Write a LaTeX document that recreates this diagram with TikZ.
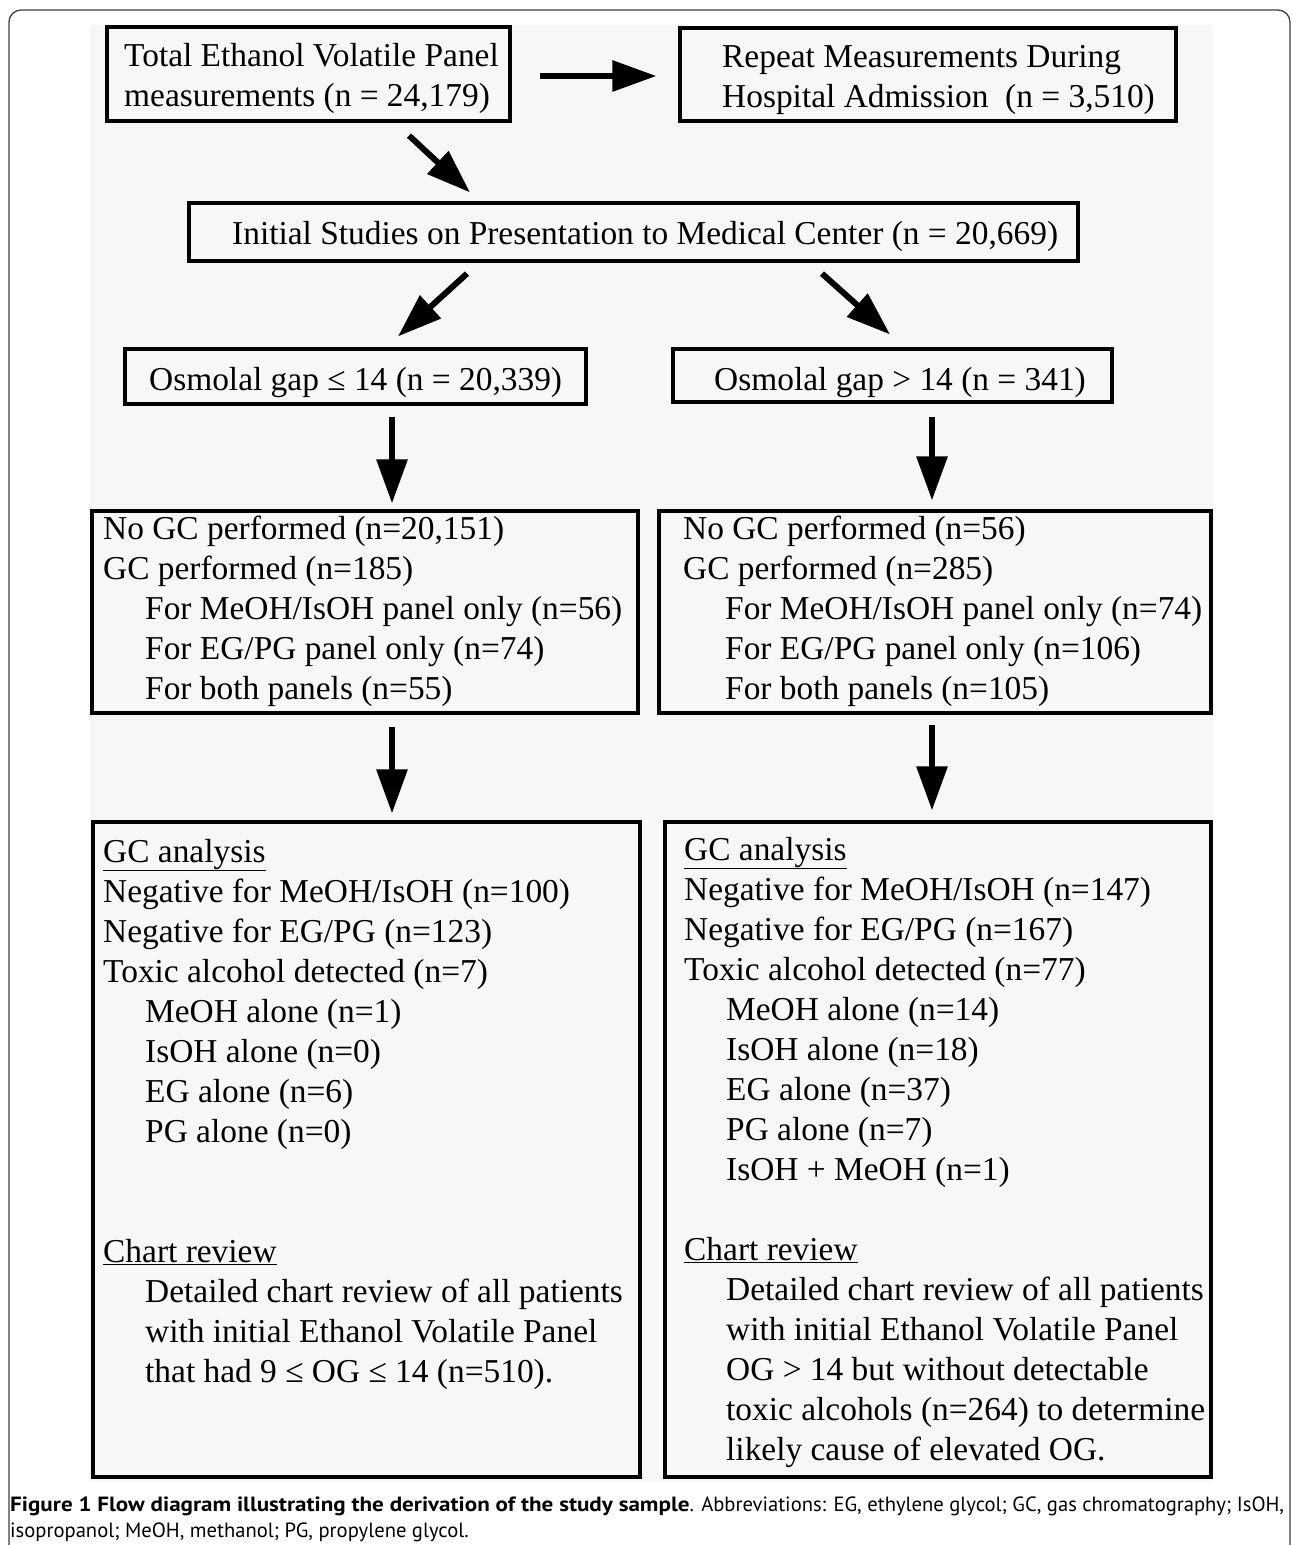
\documentclass[tikz,border=0pt]{standalone}
\usepackage{fontspec}
\setmainfont{Liberation Serif}
\newfontfamily\capfont{PT Sans}
\newfontfamily\capbold[FakeStretch=1.12]{PT Sans}
\usetikzlibrary{arrows.meta}
\newcommand{\ind}{\hspace*{42pt}}
\begin{document}
\begin{tikzpicture}[x=1pt,y=-1pt,
  box/.style={draw=black, line width=3.2pt, inner sep=0pt, fill=none},
  txt/.style={inner sep=0pt, anchor=base west, font=\fontsize{33.4}{40}\selectfont},
  arr/.style={line width=6pt, -{Triangle[length=44pt,width=30pt]}},
]
\useasboundingbox (0,0) rectangle (1292,1545);
\fill[white] (0,0) rectangle (1292,1545);
\fill[black!3] (90,25) rectangle (1213,1482);
\draw[black!75, line width=1.3pt, rounded corners=12pt] (9,1545) -- (9,10) -- (1290,10) -- (1290,1545);

% boxes
\node[box, minimum width=403pt, minimum height=94pt] (b1) at (308.5,74) {};
\node[box, minimum width=496pt, minimum height=93pt] (b2) at (928,74.5) {};
\node[box, minimum width=889pt, minimum height=58pt] (b3) at (633.5,232) {};
\node[box, minimum width=461pt, minimum height=55pt] (b4) at (355.5,376.5) {};
\node[box, minimum width=439pt, minimum height=53pt] (b5) at (892.5,375.5) {};
\node[box, minimum width=546pt, minimum height=202pt] (b6) at (365,612) {};
\node[box, minimum width=552pt, minimum height=202pt] (b7) at (935,612) {};
\node[box, minimum width=547pt, minimum height=655pt] (b8) at (366.5,1149.5) {};
\node[box, minimum width=546pt, minimum height=655pt] (b9) at (938,1149.5) {};

% texts
\node[txt] (t1) at (124,66) {\parbox[t]{400pt}{Total Ethanol Volatile Panel\\measurements (n = 24,179)}};
\node[txt] (t2) at (722,67) {\parbox[t]{460pt}{Repeat Measurements During\\Hospital Admission\ \ (n = 3,510)}};
\node[txt] (t3) at (232,244) {Initial Studies on Presentation to Medical Center (n = 20,669)};
\node[txt] (t4) at (149,390) {Osmolal gap ≤ 14 (n = 20,339)};
\node[txt] (t5) at (714,390) {Osmolal gap > 14 (n = 341)};
\node[txt] (t6) at (103,539) {\parbox[t]{540pt}{\raggedright
No GC performed (n=20,151)\\
GC performed (n=185)\\
\ind For MeOH/IsOH panel only (n=56)\\
\ind For EG/PG panel only (n=74)\\
\ind For both panels (n=55)}};
\node[txt] (t7) at (683,539) {\parbox[t]{540pt}{\raggedright
No GC performed (n=56)\\
GC performed (n=285)\\
\ind For MeOH/IsOH panel only (n=74)\\
\ind For EG/PG panel only (n=106)\\
\ind For both panels (n=105)}};
\node[txt] (t8) at (103,862) {\parbox[t]{540pt}{\raggedright
\underline{GC analysis}\\
Negative for MeOH/IsOH (n=100)\\
Negative for EG/PG (n=123)\\
Toxic alcohol detected (n=7)\\
\ind MeOH alone (n=1)\\
\ind IsOH alone (n=0)\\
\ind EG alone (n=6)\\
\ind PG alone (n=0)\\[80pt]
\underline{Chart review}\\
\ind Detailed chart review of all patients\\
\ind with initial Ethanol Volatile Panel\\
\ind that had 9 ≤ OG ≤ 14 (n=510).}};
\node[txt] (t9) at (684,860) {\parbox[t]{540pt}{\raggedright
\underline{GC analysis}\\
Negative for MeOH/IsOH (n=147)\\
Negative for EG/PG (n=167)\\
Toxic alcohol detected (n=77)\\
\ind MeOH alone (n=14)\\
\ind IsOH alone (n=18)\\
\ind EG alone (n=37)\\
\ind PG alone (n=7)\\
\ind IsOH + MeOH (n=1)\\[40pt]
\underline{Chart review}\\
\ind Detailed chart review of all patients\\
\ind with initial Ethanol Volatile Panel\\
\ind OG > 14 but without detectable\\
\ind toxic alcohols (n=264) to determine\\
\ind likely cause of elevated OG.}};

% arrows
\draw[arr] ([shift={(28,2)}]b1.east) -- ([shift={(-22,1.5)}]b2.west);
\draw[arr] ([shift={(100.5,13)}]b1.south) -- ([shift={(-163.5,-9)}]b3.north);
\draw[arr] ([shift={(-166.5,11)}]b3.south) -- ([shift={(42.5,-11)}]b4.north);
\draw[arr] ([shift={(188.5,11)}]b3.south) -- ([shift={(-2.5,-13)}]b5.north);
\draw[arr] ([shift={(36.5,11)}]b4.south) -- ([shift={(27,-6)}]b6.north);
\draw[arr] ([shift={(39.5,13)}]b5.south) -- ([shift={(-3,-9)}]b7.north);
\draw[arr] ([shift={(27,12)}]b6.south) -- ([shift={(25.5,-7)}]b8.north);
\draw[arr] ([shift={(-3,10)}]b7.south) -- ([shift={(-6,-10)}]b9.north);

% caption
\node[inner sep=0pt, anchor=base west, font=\capfont\fontsize{20.6}{26}\selectfont] (cap) at (10,1511)
 {\parbox[t]{1290pt}{\raggedright{\capbold\bfseries Figure 1 Flow diagram illustrating the derivation of the study sample}. Abbreviations: EG, ethylene glycol; GC, gas chromatography; IsOH,\\
 isopropanol; MeOH, methanol; PG, propylene glycol.}};
\end{tikzpicture}
\end{document}
